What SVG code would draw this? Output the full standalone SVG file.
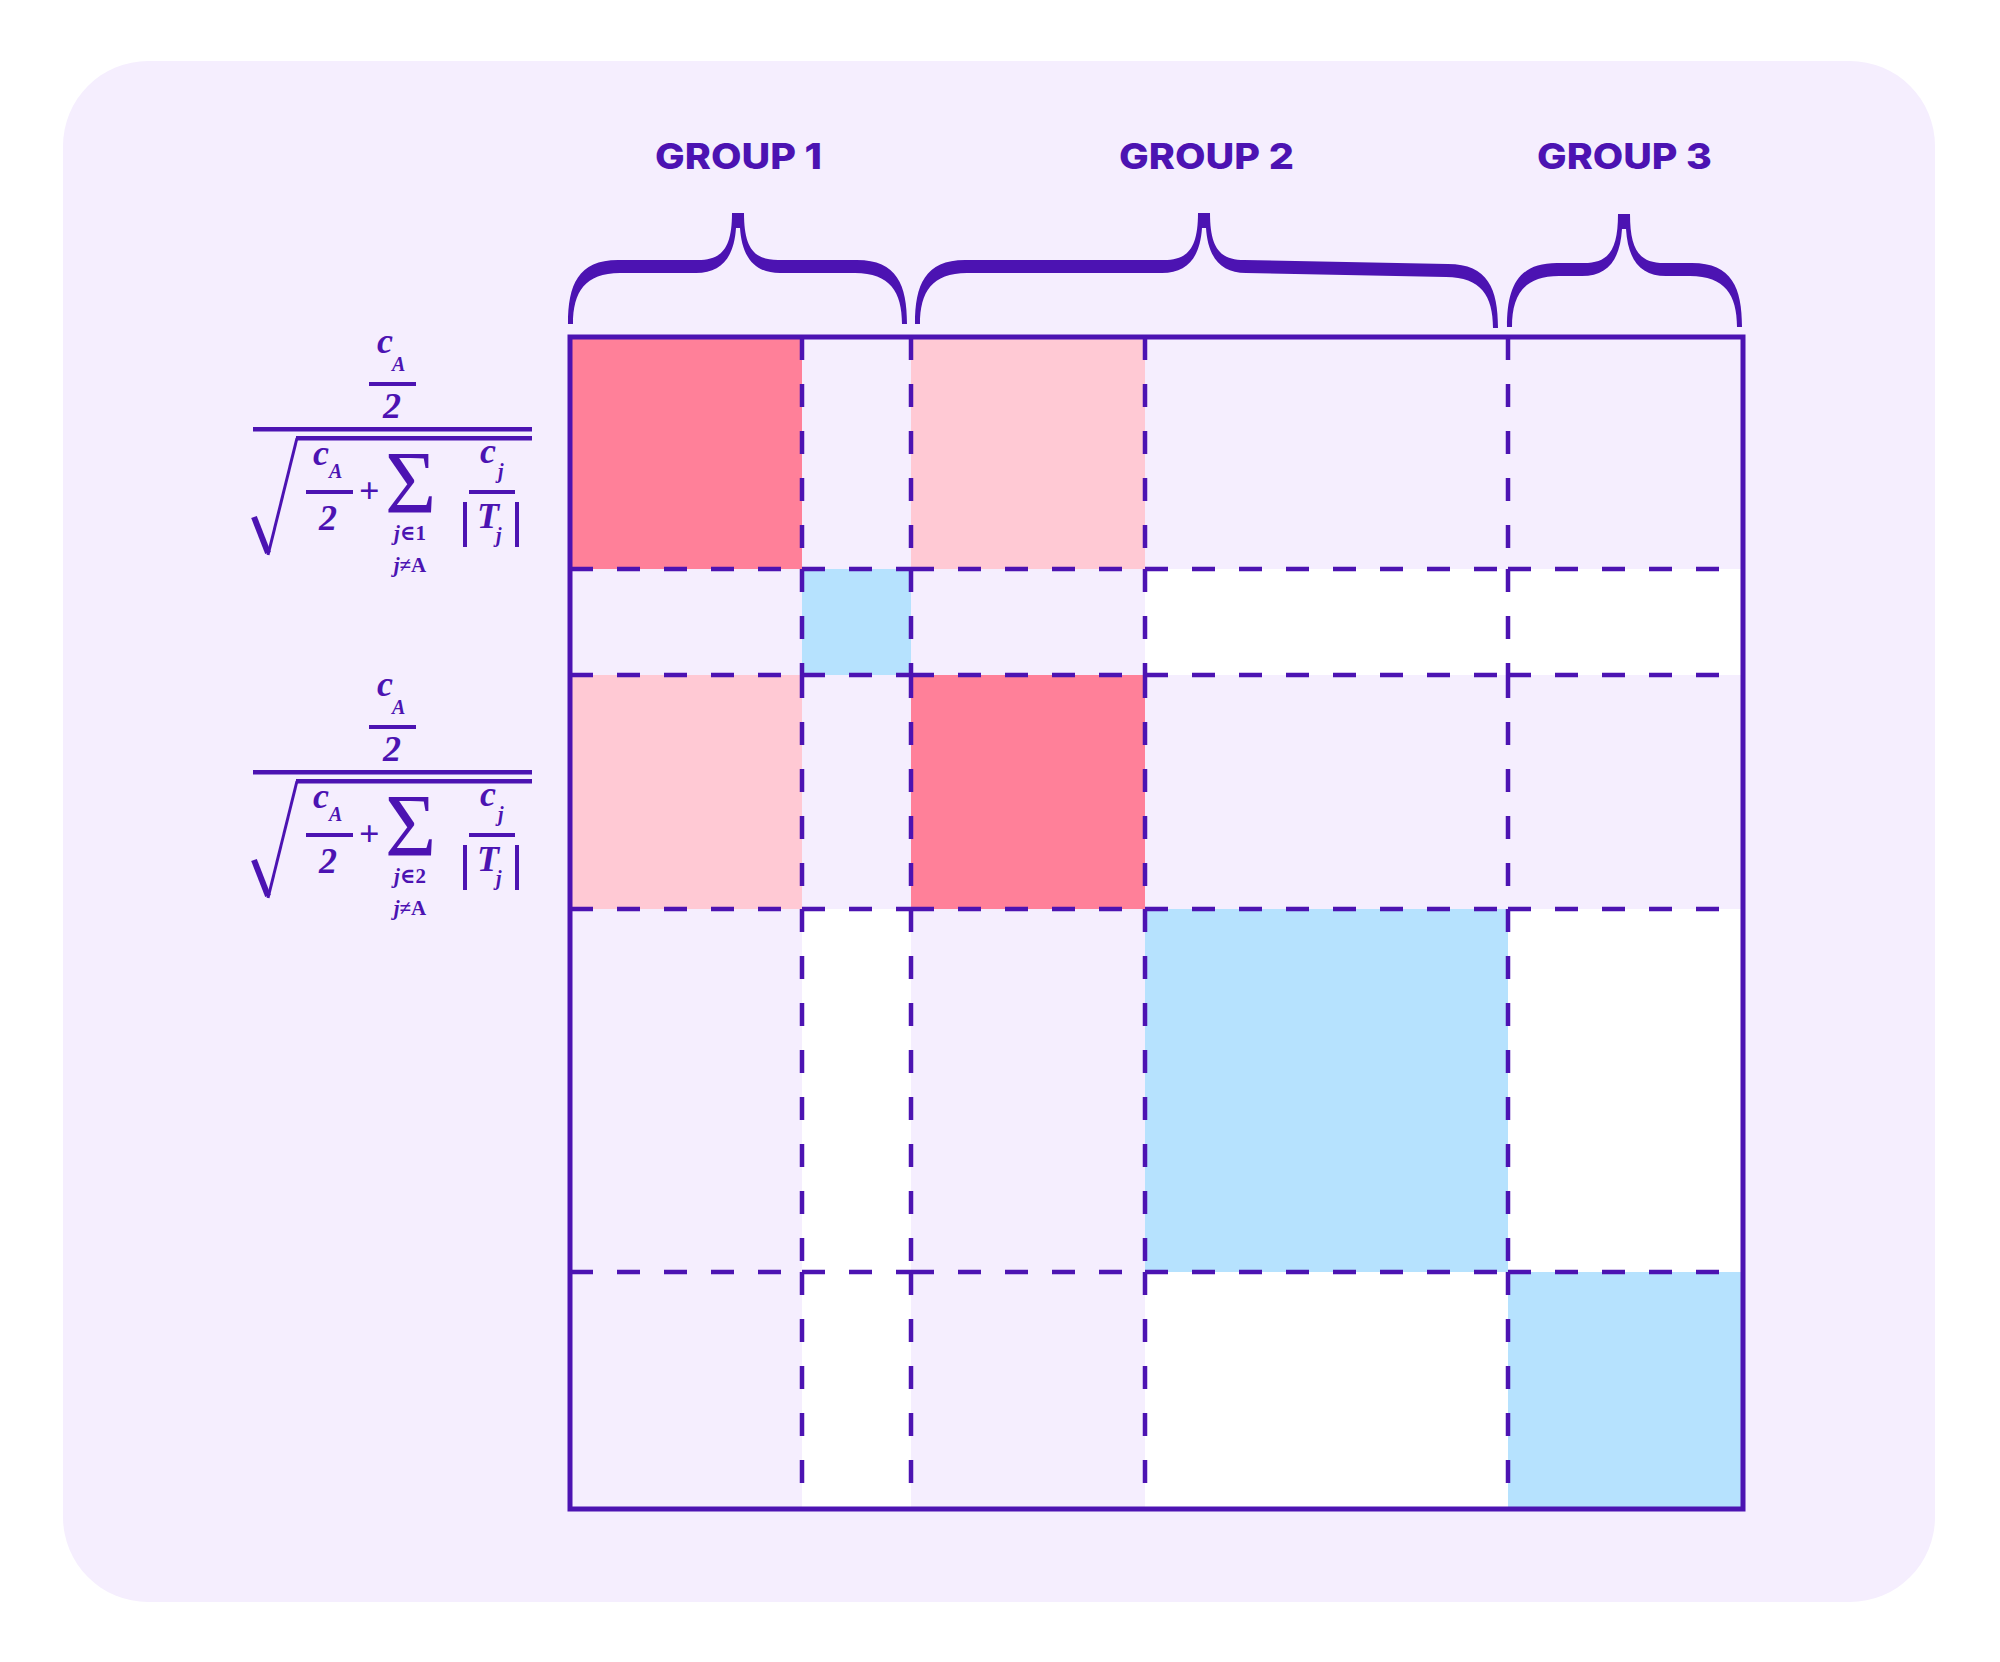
<svg xmlns="http://www.w3.org/2000/svg" width="2000" height="1662" viewBox="0 0 2000 1662">
<style>
.bg{fill:#F5EEFE}
.pd{fill:#FF8099}
.pl{fill:#FFC9D4}
.bl{fill:#B6E2FE}
.wh{fill:#FFFFFF}
.ink{fill:#4C13B2}
.dash{stroke:#4C13B2;stroke-width:4.5;stroke-dasharray:23 24;fill:none}
.frame{stroke:#4C13B2;stroke-width:5;fill:none}
.lbl{font-family:Inter,"Noto Sans",sans-serif;font-weight:800;font-size:36px;fill:#4C13B2}
.m{font-family:"Liberation Serif","DejaVu Serif",serif;font-weight:bold;fill:#4C13B2}
.mi{font-style:italic;font-size:36px}
.sb{font-style:italic;font-size:20px}
.lim{font-size:21px;text-anchor:middle}
.sig{font-weight:normal;font-size:88px}
.rad{stroke:#4C13B2;fill:none}
</style>
<rect width="2000" height="1662" fill="#FFFFFF"/>
<rect class="bg" x="63" y="61" width="1872" height="1541" rx="85"/>

<g id="labels">
<text class="lbl" x="655" y="169" textLength="167" lengthAdjust="spacingAndGlyphs">GROUP 1</text>
<text class="lbl" x="1119" y="169" textLength="175" lengthAdjust="spacingAndGlyphs">GROUP 2</text>
<text class="lbl" x="1537" y="169" textLength="175" lengthAdjust="spacingAndGlyphs">GROUP 3</text>
</g>

<g id="braces" class="ink">
<path id="brace1" d="M568,324 C568,285 578,260 618,260 L698,260 C722,260 732,248 732,213 L744,213 C744,248 754,260 778,260 L857,260 C897,260 907,285 907,324 L902,324 C902,292 890,273 855,273 L780,273 C755,273 742,258 740,228 L736,228 C734,258 721,273 696,273 L620,273 C585,273 573,292 573,324 Z"/>
<path id="brace2" d="M915,324 C915,285 925,260 965,260 L1164,260 C1188,260 1198,248 1198,213 L1210,213 C1210,248 1220,260 1244,260 L1448,264 C1488,264 1498,289 1498,328 L1493,328 C1493,296 1481,277 1446,277 L1246,273 C1221,273 1208,258 1206,228 L1202,228 C1200,258 1187,273 1162,273 L967,273 C932,273 920,292 920,324 Z"/>
<path id="brace3" d="M1507,327 C1507,288 1517,263 1557,263 L1584,263 C1608,263 1618,251 1618,214 L1630,214 C1630,251 1640,263 1664,263 L1692,263 C1732,263 1742,288 1742,327 L1737,327 C1737,295 1725,276 1690,276 L1666,276 C1641,276 1628,261 1626,229 L1622,229 C1620,261 1607,276 1582,276 L1559,276 C1524,276 1512,295 1512,327 Z"/>
</g>

<g id="matrix">
<rect class="pd" x="570" y="337" width="232" height="232"/>
<rect class="pl" x="911" y="337" width="234" height="232"/>
<rect class="bl" x="802" y="569" width="109" height="106"/>
<rect class="wh" x="1145" y="569" width="598" height="106"/>
<rect class="pl" x="570" y="675" width="232" height="234"/>
<rect class="pd" x="911" y="675" width="234" height="234"/>
<rect class="wh" x="802" y="909" width="109" height="363"/>
<rect class="bl" x="1145" y="909" width="363" height="363"/>
<rect class="wh" x="1508" y="909" width="235" height="363"/>
<rect class="wh" x="802" y="1272" width="109" height="237"/>
<rect class="wh" x="1145" y="1272" width="363" height="237"/>
<rect class="bl" x="1508" y="1272" width="235" height="237"/>
</g>

<g id="connectors">
<path class="dash" d="M802,337V569M802,569V675M802,675V909M802,909V1272M802,1272V1509 M911,337V569M911,569V675M911,675V909M911,909V1272M911,1272V1509 M1145,337V569M1145,569V675M1145,675V909M1145,909V1272M1145,1272V1509 M1508,337V569M1508,569V675M1508,675V909M1508,909V1272M1508,1272V1509"/>
<path class="dash" d="M570,569H802M802,569H911M911,569H1145M1145,569H1508M1508,569H1743 M570,675H802M802,675H911M911,675H1145M1145,675H1508M1508,675H1743 M570,909H802M802,909H911M911,909H1145M1145,909H1508M1508,909H1743 M570,1272H802M802,1272H911M911,1272H1145M1145,1272H1508M1508,1272H1743"/>
<rect class="frame" x="570" y="337" width="1173" height="1172"/>
</g>

<g id="formula1">
<text class="m mi" x="377" y="353">c</text>
<text class="m sb" x="392" y="371">A</text>
<rect class="ink" x="369" y="382" width="47" height="4"/>
<text class="m mi" x="383" y="418">2</text>
<rect class="ink" x="253" y="427" width="279" height="4.5"/>
<line class="rad" x1="254" y1="517" x2="268" y2="553" stroke-width="6"/>
<line class="rad" x1="268" y1="555" x2="297" y2="438" stroke-width="3"/>
<rect class="ink" x="296" y="436" width="236" height="4.5"/>
<text class="m mi" x="313" y="465">c</text>
<text class="m sb" x="329" y="478">A</text>
<rect class="ink" x="306" y="490" width="47" height="4"/>
<text class="m mi" x="319" y="530">2</text>
<text class="m" font-size="36" x="359" y="503">+</text>
<text class="m sig" x="385" y="512">Σ</text>
<text class="m lim" x="410" y="540"><tspan font-style="italic">j</tspan>∈1</text>
<text class="m lim" x="410" y="572"><tspan font-style="italic">j</tspan>≠A</text>
<text class="m mi" x="480" y="463">c</text>
<text class="m sb" x="498" y="478">j</text>
<rect class="ink" x="469" y="490" width="46" height="4"/>
<rect class="ink" x="463" y="502" width="4" height="45"/>
<rect class="ink" x="515" y="502" width="4" height="45"/>
<text class="m mi" x="477" y="528">T</text>
<text class="m sb" x="496" y="542">j</text>
</g>

<g id="formula2" transform="translate(0,343)">
<text class="m mi" x="377" y="353">c</text>
<text class="m sb" x="392" y="371">A</text>
<rect class="ink" x="369" y="382" width="47" height="4"/>
<text class="m mi" x="383" y="418">2</text>
<rect class="ink" x="253" y="427" width="279" height="4.5"/>
<line class="rad" x1="254" y1="517" x2="268" y2="553" stroke-width="6"/>
<line class="rad" x1="268" y1="555" x2="297" y2="438" stroke-width="3"/>
<rect class="ink" x="296" y="436" width="236" height="4.5"/>
<text class="m mi" x="313" y="465">c</text>
<text class="m sb" x="329" y="478">A</text>
<rect class="ink" x="306" y="490" width="47" height="4"/>
<text class="m mi" x="319" y="530">2</text>
<text class="m" font-size="36" x="359" y="503">+</text>
<text class="m sig" x="385" y="512">Σ</text>
<text class="m lim" x="410" y="540"><tspan font-style="italic">j</tspan>∈2</text>
<text class="m lim" x="410" y="572"><tspan font-style="italic">j</tspan>≠A</text>
<text class="m mi" x="480" y="463">c</text>
<text class="m sb" x="498" y="478">j</text>
<rect class="ink" x="469" y="490" width="46" height="4"/>
<rect class="ink" x="463" y="502" width="4" height="45"/>
<rect class="ink" x="515" y="502" width="4" height="45"/>
<text class="m mi" x="477" y="528">T</text>
<text class="m sb" x="496" y="542">j</text>
</g>
</svg>
